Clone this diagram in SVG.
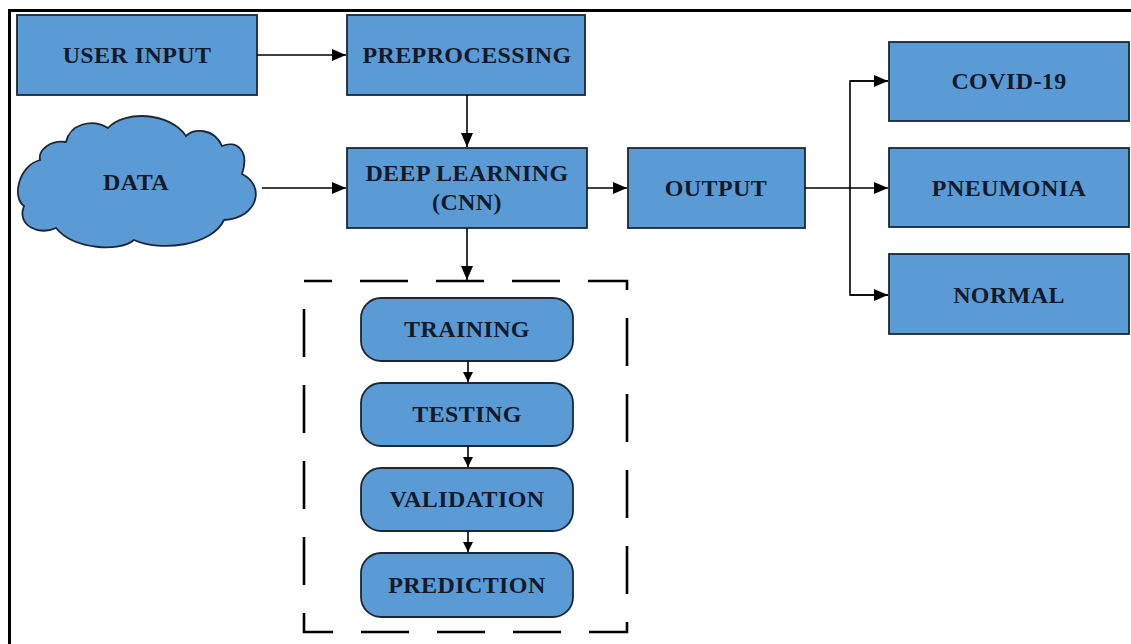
<svg xmlns="http://www.w3.org/2000/svg" width="1131" height="644" viewBox="0 0 1131 644">
  <defs>
    <marker id="arrow" viewBox="0 0 10 10" refX="10" refY="5" markerWidth="10" markerHeight="10" markerUnits="userSpaceOnUse" orient="auto">
      <path d="M0,0 L10,5 L0,10 Z" fill="#000"/>
    </marker>
    <marker id="arrowBig" viewBox="0 0 14 12" refX="14" refY="6" markerWidth="14" markerHeight="12" markerUnits="userSpaceOnUse" orient="auto">
      <path d="M0,0 L14,6 L0,12 Z" fill="#000"/>
    </marker>
    <style>
      .box { fill: #5b9bd5; stroke: #1c2733; stroke-width: 1.8; }
      .label { font-family: "Liberation Serif", "Times New Roman", serif; font-weight: bold; font-size: 24px; letter-spacing: 0.4px; fill: #141a2a; text-anchor: middle; dominant-baseline: central; }
      .conn { fill: none; stroke: #000; stroke-width: 1.6; }
      .frame { fill: none; stroke: #000; stroke-width: 3; }
      .dash { fill: none; stroke: #000; stroke-width: 2.6; stroke-dasharray: 48 28; stroke-dashoffset: 20; }
    </style>
  </defs>

  <rect width="1131" height="644" fill="#fff"/>
  <!-- outer frame (top and left edges) -->
  <path class="frame" d="M9.5,644 V10.5 H1131"/>

  <g id="user-input">
    <rect class="box" x="17" y="15" width="240" height="80"/>
    <text class="label" x="137" y="55">USER INPUT</text>
  </g>
  <g id="preprocessing">
    <rect class="box" x="347" y="15" width="238" height="80"/>
    <text class="label" x="467" y="55">PREPROCESSING</text>
  </g>
  <g id="data">
    <path class="box" d="M40,160 C18,166 12,198 24,206 C16,226 40,236 56,228 C74,250 120,252 134,240 C160,252 212,246 224,220 C258,218 266,186 242,174 C250,150 236,140 222,146 C214,128 194,128 186,136 C170,112 124,110 108,128 C92,118 70,124 66,142 C50,140 38,150 40,160 Z"/>
    <text class="label" x="136" y="182">DATA</text>
  </g>
  <g id="deep-learning">
    <rect class="box" x="347" y="148" width="240" height="80"/>
    <text class="label" x="467" y="173">DEEP LEARNING</text>
    <text class="label" x="467" y="202">(CNN)</text>
  </g>
  <g id="output">
    <rect class="box" x="628" y="148" width="177" height="80"/>
    <text class="label" x="716" y="188">OUTPUT</text>
  </g>
  <g id="covid-19">
    <rect class="box" x="889" y="42" width="240" height="79"/>
    <text class="label" x="1009" y="81">COVID-19</text>
  </g>
  <g id="pneumonia">
    <rect class="box" x="889" y="148" width="240" height="79"/>
    <text class="label" x="1009" y="188">PNEUMONIA</text>
  </g>
  <g id="normal">
    <rect class="box" x="889" y="254" width="240" height="80"/>
    <text class="label" x="1009" y="295">NORMAL</text>
  </g>

  <g id="model-stages">
    <rect class="dash" x="304" y="281" width="323" height="351"/>
    <g id="training">
      <rect class="box" x="361" y="298" width="212" height="63" rx="20"/>
      <text class="label" x="467" y="329">TRAINING</text>
    </g>
    <g id="testing">
      <rect class="box" x="361" y="383" width="212" height="63" rx="20"/>
      <text class="label" x="467" y="414">TESTING</text>
    </g>
    <g id="validation">
      <rect class="box" x="361" y="468" width="212" height="63" rx="20"/>
      <text class="label" x="467" y="499">VALIDATION</text>
    </g>
    <g id="prediction">
      <rect class="box" x="361" y="553" width="212" height="64" rx="20"/>
      <text class="label" x="467" y="585">PREDICTION</text>
    </g>
  </g>

  <g id="connectors">
    <line class="conn" x1="257" y1="55" x2="346" y2="55" marker-end="url(#arrowBig)"/>
    <line class="conn" x1="467" y1="95" x2="467" y2="147" marker-end="url(#arrowBig)"/>
    <line class="conn" x1="262" y1="188" x2="346" y2="188" marker-end="url(#arrowBig)"/>
    <line class="conn" x1="587" y1="188" x2="627" y2="188" marker-end="url(#arrowBig)"/>
    <line class="conn" x1="467" y1="228" x2="467" y2="280" marker-end="url(#arrowBig)"/>
    <line class="conn" x1="805" y1="188" x2="888" y2="188" marker-end="url(#arrowBig)"/>
    <polyline class="conn" points="888,81 850,81 850,295 888,295"/>
    <line class="conn" x1="850" y1="81" x2="888" y2="81" marker-end="url(#arrowBig)"/>
    <line class="conn" x1="850" y1="295" x2="888" y2="295" marker-end="url(#arrowBig)"/>
    <line class="conn" x1="468" y1="361" x2="468" y2="382" marker-end="url(#arrow)"/>
    <line class="conn" x1="468" y1="446" x2="468" y2="467" marker-end="url(#arrow)"/>
    <line class="conn" x1="468" y1="531" x2="468" y2="552" marker-end="url(#arrow)"/>
  </g>
</svg>
